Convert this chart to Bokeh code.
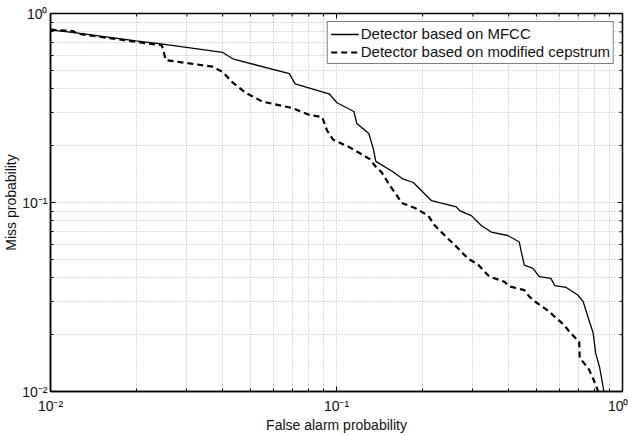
import math

from bokeh.plotting import figure
from bokeh.models import FixedTicker, CustomJSTickFormatter
from bokeh.embed import file_html
from bokeh.resources import INLINE

# DET curves: false alarm probability vs. miss probability
mfcc_far = [0.01, 0.0123, 0.0199, 0.0247, 0.0400, 0.0437, 0.0684, 0.0717, 0.0891,
            0.0942, 0.1004, 0.1150, 0.1178, 0.1297, 0.1347, 0.1372, 0.1560, 0.1713,
            0.1856, 0.1983, 0.2149, 0.2347, 0.2625, 0.2695, 0.2960, 0.3207, 0.3475,
            0.3972, 0.4358, 0.4418, 0.4537, 0.4864, 0.5115, 0.5617, 0.5800, 0.6334,
            0.6973, 0.7287, 0.7536, 0.7895, 0.8055, 0.8318, 0.861]
mfcc_miss = [0.819, 0.790, 0.717, 0.688, 0.622, 0.573, 0.481, 0.424, 0.385,
             0.376, 0.337, 0.303, 0.2615, 0.2317, 0.1909, 0.1651, 0.1469, 0.1328,
             0.1276, 0.1153, 0.1022, 0.0988, 0.0947, 0.0906, 0.0852, 0.0755, 0.0698,
             0.0669, 0.0618, 0.0556, 0.0466, 0.0448, 0.0405, 0.0397, 0.0363, 0.0356,
             0.0324, 0.0299, 0.0254, 0.0204, 0.0160, 0.0134, 0.0100]

cep_far = [0.01, 0.0120, 0.0124, 0.0199, 0.0245, 0.0249, 0.0253, 0.0369, 0.0400,
           0.0433, 0.0482, 0.0551, 0.0700, 0.0801, 0.0891, 0.0927, 0.0972, 0.1105,
           0.1227, 0.1311, 0.1365, 0.1440, 0.1539, 0.1623, 0.1690, 0.1880, 0.2093,
           0.2207, 0.2456, 0.2646, 0.2883, 0.3123, 0.3419, 0.3865, 0.4023, 0.4537,
           0.4722, 0.4903, 0.5527, 0.5768, 0.6249, 0.6505, 0.7057, 0.7085, 0.7633,
           0.8055, 0.8219]
cep_miss = [0.821, 0.807, 0.782, 0.708, 0.679, 0.624, 0.567, 0.523, 0.490,
            0.432, 0.380, 0.342, 0.316, 0.2914, 0.2828, 0.2402, 0.2154, 0.1968,
            0.1797, 0.1692, 0.1560, 0.1440, 0.1225, 0.1095, 0.0994, 0.0936, 0.0852,
            0.0755, 0.0643, 0.0577, 0.0505, 0.0470, 0.0406, 0.0381, 0.0360, 0.0344,
            0.0318, 0.0302, 0.0266, 0.0250, 0.0225, 0.0208, 0.0183, 0.0151, 0.0131,
            0.0109, 0.0100]

major_ticks = [0.01, 0.1, 1.0]
tick_labels = ["10\u207b\u00b2", "10\u207b\u00b9", "10\u2070"]
minor_ticks = [0.02, 0.03, 0.04, 0.05, 0.06, 0.07, 0.08, 0.09,
               0.2, 0.3, 0.4, 0.5, 0.6, 0.7, 0.8, 0.9]

FONT = "Liberation Sans"
LO, HI = 0.01, 1.0

p = figure(width=628, height=435, x_axis_type="log", y_axis_type="log",
           x_range=(LO, HI), y_range=(LO, HI),
           output_backend="svg", toolbar_location=None,
           min_border_left=47, min_border_right=6,
           min_border_top=13, min_border_bottom=41)
p.background_fill_color = "white"
p.border_fill_color = "white"
p.outline_line_color = "black"
p.outline_line_width = 1.5

ticker = FixedTicker(ticks=major_ticks, minor_ticks=minor_ticks)
fmt = CustomJSTickFormatter(args=dict(vals=major_ticks, labs=tick_labels), code="""
    for (let i = 0; i < vals.length; i++) {
        if (Math.abs(Math.log10(vals[i]) - Math.log10(tick)) < 1e-6) return labs[i];
    }
    return "";
""")

for ax in (p.xaxis[0], p.yaxis[0]):
    ax.ticker = ticker
    ax.formatter = fmt
    ax.axis_line_color = "black"
    ax.axis_line_width = 1.5
    ax.major_tick_in = 5
    ax.major_tick_out = 0
    ax.minor_tick_in = 3
    ax.minor_tick_out = 0
    ax.major_tick_line_color = "black"
    ax.minor_tick_line_color = "black"
    ax.major_label_text_font = FONT
    ax.major_label_text_font_size = "14px"
    ax.major_label_text_color = "#111111"
    ax.axis_label_text_font = FONT
    ax.axis_label_text_font_size = "14px"
    ax.axis_label_text_font_style = "normal"
    ax.axis_label_text_color = "#111111"

p.xaxis.axis_label = "False alarm probability"
p.xaxis.major_label_standoff = 6
p.xaxis.axis_label_standoff = 0
p.yaxis.axis_label = "Miss probability"
p.yaxis.major_label_standoff = 3
p.yaxis.axis_label_standoff = 0

# inward tick marks along the top and right edges of the box
all_ticks = major_ticks + minor_ticks
tick_len = [5] * len(major_ticks) + [3] * len(minor_ticks)
p.ray(x=all_ticks, y=[HI] * len(all_ticks), length=tick_len, length_units="screen",
      angle=-math.pi / 2, line_color="black", line_width=1)
p.ray(x=[HI] * len(all_ticks), y=all_ticks, length=tick_len, length_units="screen",
      angle=math.pi, line_color="black", line_width=1)

for g in (p.xgrid, p.ygrid):
    g.ticker = ticker
    g.grid_line_color = "#b4b4b4"
    g.grid_line_dash = "1 2"
    g.grid_line_width = 1
    g.minor_grid_line_color = "#b4b4b4"
    g.minor_grid_line_dash = "1 2"
    g.minor_grid_line_width = 1

p.line(mfcc_far, mfcc_miss, line_color="black", line_width=1.3,
       legend_label="Detector based on MFCC")
p.line(cep_far, cep_miss, line_color="black", line_width=2.2, line_dash="6 4",
       legend_label="Detector based on modified cepstrum")

lg = p.legend[0]
lg.location = "top_right"
lg.margin = 8
lg.padding = 3
lg.spacing = 1
lg.label_text_font = FONT
lg.label_text_font_size = "15px"
lg.label_text_color = "#111111"
lg.label_standoff = 2
lg.label_height = 16
lg.glyph_height = 16
lg.glyph_width = 28
lg.border_line_color = "black"
lg.border_line_width = 1.2
lg.background_fill_color = "white"
lg.background_fill_alpha = 1.0

open("out.html", "w").write(file_html(p, INLINE))
